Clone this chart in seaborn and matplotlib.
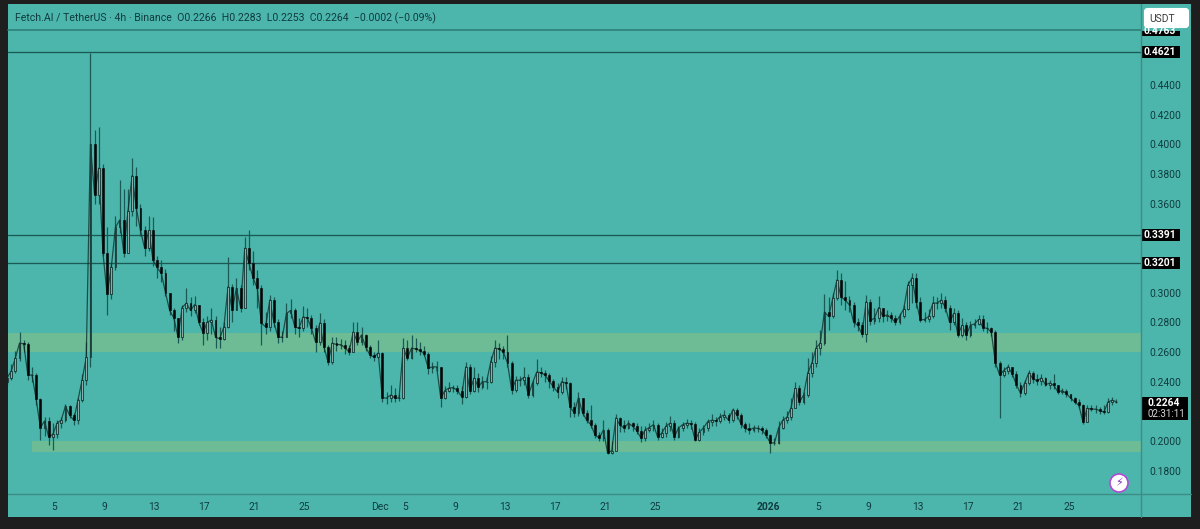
import matplotlib
matplotlib.use("Agg")
import matplotlib.pyplot as plt
from matplotlib.patches import Rectangle, FancyBboxPatch, Circle
import numpy as np
import pandas as pd
import seaborn as sns

first_open = 0.2400
closes = [
.2425,.247,.256,.266,.2655,.2445,.2445,.228,.209,.2135,.2027,.2045,.212,.214,.2235,.2175,.214,.2275,.241,.2565,
.40,.366,.384,.327,.299,.317,.344,.349,.327,.355,.379,.357,.342,.33,.342,.322,.317,.313,.30,.288,
.283,.27,.29,.293,.288,.292,.28,.273,.28,.2816,.27,.269,.277,.304,.288,.303,.29,.33,.32,.31,
.303,.2795,.277,.295,.28,.27,.27,.286,.288,.277,.276,.2836,.283,.276,.2667,.2796,.2635,.253,.266,.265,
.265,.263,.26,.2735,.267,.2715,.2635,.258,.2566,.2593,.229,.229,.231,.229,.229,.2627,.256,.2627,.262,.261,
.259,.249,.25,.25,.229,.234,.2357,.236,.234,.23,.25,.234,.2425,.2365,.24,.24,.2535,.2627,.262,.26,
.2526,.2343,.241,.241,.243,.231,.239,.2465,.246,.2445,.2405,.2365,.233,.24,.239,.223,.219,.229,.219,.214,
.211,.204,.202,.2074,.192,.1935,.2155,.2105,.2088,.212,.21,.207,.202,.2075,.209,.211,.2027,.2054,.21,.212,
.2027,.2088,.211,.212,.2115,.2007,.206,.2088,.213,.214,.2135,.2165,.2175,.214,.221,.2175,.2115,.2085,.2074,.2088,
.2085,.2074,.204,.1987,.1987,.2088,.214,.216,.2225,.2357,.2263,.231,.2458,.2526,.2627,.266,.287,.284,.2964,.3086,
.297,.295,.2917,.28,.278,.272,.294,.281,.283,.29,.284,.285,.283,.28,.284,.289,.305,.31,.294,.2816,
.282,.284,.293,.293,.295,.29,.28,.286,.2715,.278,.2715,.278,.279,.282,.2765,.276,.2735,.2526,.2445,.2475,
.25,.2455,.238,.2323,.239,.246,.242,.2405,.2425,.238,.239,.2375,.233,.234,.232,.229,.2265,.224,.2128,.222,
.2215,.2215,.2205,.2195,.2263,.2275,.2264]
highs = [
.246,.252,.261,.2735,.268,.2665,.25,.246,.229,.216,.216,.212,.214,.216,.225,.2245,.219,.229,.245,.267,
.4617,.41,.412,.387,.344,.32,.352,.376,.37,.37,.391,.385,.36,.345,.352,.351,.325,.322,.316,.30,
.29,.283,.292,.303,.297,.298,.292,.283,.284,.29,.284,.277,.28,.324,.306,.31,.305,.3375,.342,.328,
.315,.305,.287,.2985,.297,.282,.274,.293,.296,.29,.283,.291,.29,.285,.278,.286,.282,.265,.27,.27,
.269,.268,.265,.28,.28,.277,.272,.265,.26,.268,.26,.233,.238,.236,.232,.2695,.268,.2715,.2695,.267,
.264,.26,.253,.254,.25,.237,.24,.238,.238,.237,.2535,.252,.25,.246,.244,.243,.257,.268,.266,.264,
.2715,.254,.244,.244,.25,.245,.241,.255,.25,.248,.246,.242,.239,.243,.243,.24,.226,.233,.229,.221,
.224,.212,.206,.214,.209,.20,.218,.216,.214,.214,.213,.212,.21,.21,.212,.214,.212,.209,.213,.217,
.214,.21,.213,.215,.214,.213,.209,.211,.215,.218,.216,.219,.221,.219,.2225,.222,.219,.213,.212,.211,
.211,.21,.209,.205,.202,.2135,.217,.22,.229,.24,.238,.233,.256,.26,.268,.275,.299,.297,.30,.3153,
.313,.308,.298,.294,.283,.28,.2985,.296,.29,.298,.29,.288,.287,.285,.286,.292,.308,.3133,.3133,.297,
.287,.289,.298,.297,.30,.298,.292,.29,.288,.283,.28,.281,.282,.285,.285,.28,.277,.275,.254,.25,
.252,.25,.247,.24,.241,.248,.247,.245,.245,.243,.241,.245,.238,.236,.235,.232,.23,.228,.225,.224,
.224,.224,.223,.224,.229,.2295,.2283]
lows = [
.238,.241,.246,.254,.26,.241,.24,.224,.2007,.2035,.1975,.194,.202,.209,.213,.2155,.211,.2115,.2265,.238,
.25,.36,.36,.325,.285,.296,.315,.34,.324,.327,.352,.345,.338,.325,.328,.318,.31,.307,.298,.285,
.274,.266,.268,.287,.284,.286,.278,.265,.268,.272,.263,.263,.268,.276,.28,.288,.287,.29,.315,.305,
.29,.265,.272,.274,.277,.266,.267,.27,.283,.272,.27,.274,.277,.272,.26,.265,.26,.251,.252,.261,
.262,.259,.258,.26,.265,.265,.261,.256,.254,.256,.226,.225,.226,.226,.227,.228,.2545,.255,.26,.258,
.257,.245,.246,.247,.223,.228,.233,.233,.232,.225,.229,.232,.233,.233,.235,.235,.239,.25,.255,.255,
.25,.232,.233,.237,.238,.229,.23,.238,.243,.24,.236,.234,.229,.232,.235,.2165,.2165,.217,.217,.212,
.209,.202,.20,.20,.191,.191,.2035,.206,.206,.208,.207,.205,.199,.20,.206,.207,.201,.202,.203,.207,
.201,.202,.207,.209,.208,.20,.20,.204,.207,.21,.21,.212,.214,.212,.213,.215,.209,.206,.205,.206,
.206,.205,.202,.192,.197,.198,.208,.212,.214,.222,.224,.225,.23,.243,.25,.258,.265,.275,.283,.295,
.292,.288,.287,.277,.274,.27,.2665,.278,.279,.28,.28,.281,.28,.278,.279,.283,.288,.293,.29,.28,
.28,.28,.283,.289,.29,.287,.275,.278,.27,.27,.268,.27,.276,.278,.274,.273,.271,.25,.2155,.243,
.245,.243,.236,.23,.231,.238,.239,.238,.238,.237,.235,.235,.232,.232,.23,.227,.225,.222,.2115,.213,
.22,.219,.218,.218,.219,.224,.2253]

level_prices = [0.4621, 0.3391, 0.3201]
zone_bands = [(0.2600, 0.2729), (0.1926, 0.2000)]
price_ticks = [0.18, 0.20, 0.24, 0.26, 0.28, 0.30, 0.36, 0.38, 0.40, 0.42, 0.44]
date_labels = ['5','9','13','17','21','25','Dec','5','9','13','17','21','25','2026','5','9','13','17','21','25']
date_bars = [11.3,23.3,35.3,47.2,59.2,71.2,89.5,95.4,107.5,119.4,131.4,143.4,155.4,182.5,194.5,206.5,218.5,230.4,242.4,254.7]

title_text = "Fetch.AI / TetherUS \u00b7 4h \u00b7 Binance  O0.2266  H0.2283  L0.2253  C0.2264  \u22120.0002 (\u22120.09%)"

TEAL = '#4DB6AC'; DARK = '#1e1e1e'; ZONE = '#6DBC96'; LINE = '#1B5A54'; TXT = '#0F3B3F'; SEP = '#3B8D85'

sns.set_theme(style="white")
plt.rcParams['font.family'] = ['Roboto', 'DejaVu Sans']

assert len(closes) == len(highs) == len(lows), (len(closes), len(highs), len(lows))
df = pd.DataFrame({'bar': np.arange(len(closes)), 'close': closes, 'high': highs, 'low': lows})
df['open'] = df['close'].shift(1).fillna(first_open)
df.loc[df.index[-1], 'open'] = 0.2266

fig = plt.figure(figsize=(12, 5.29), dpi=100, facecolor=DARK)

bg = fig.add_axes([0, 0, 1, 1], zorder=0)
bg.set_xlim(0, 1200); bg.set_ylim(529, 0); bg.axis('off')
bg.add_patch(Rectangle((8, 4), 1183, 513, fc=TEAL, ec='none'))

ax = fig.add_axes([8/1200, (529-494)/529, (1141-8)/1200, (494-30)/529], zorder=1)
ax.patch.set_alpha(0)
ax.set_xlim(0.24, 271.9)
ax.set_ylim(0.2 - 53/1483, 0.2 + 411/1483)

for i, (lo, hi) in enumerate(zone_bands):
    left = 0.24 if i == 0 else 6.0
    ax.fill_between([left, 271.9], lo, hi, color=ZONE, lw=0, zorder=1)
for p in level_prices:
    ax.axhline(p, color=LINE, lw=0.95, zorder=2)

ax.vlines(df['bar'], df['low'], df['high'], color=LINE, lw=0.9, zorder=3)
sns.lineplot(data=df, x='bar', y='close', estimator=None, color='#0B2B28', lw=0.9, alpha=0.75, ax=ax, zorder=3)
up = df[df['close'] >= df['open']]
dn = df[df['close'] < df['open']]
ax.bar(up['bar'], up['close'] - up['open'], bottom=up['open'], width=0.42, color='#8FAAA6', edgecolor='#0B2B28', lw=0.55, zorder=4)
ax.bar(dn['bar'], dn['open'] - dn['close'], bottom=dn['close'], width=0.46, color='#050505', edgecolor='#050505', lw=0.4, zorder=5)

ax.set_xlabel(''); ax.set_ylabel('')
ax.yaxis.tick_right()
ax.set_yticks(price_ticks)
ax.set_yticklabels([f'{p:.4f}' for p in price_ticks], fontsize=7.4, color=TXT)
ax.set_xticks(date_bars)
ax.set_xticklabels(date_labels, fontsize=7.4, color=TXT)
for lab in ax.get_xticklabels():
    if lab.get_text() == '2026':
        lab.set_fontweight('bold')
ax.tick_params(axis='both', length=0)
ax.tick_params(axis='y', pad=6)
ax.tick_params(axis='x', pad=6)
for s in ax.spines.values():
    s.set_visible(False)
ax.grid(False)

ov = fig.add_axes([0, 0, 1, 1], zorder=2)
ov.set_xlim(0, 1200); ov.set_ylim(529, 0); ov.axis('off'); ov.patch.set_alpha(0)
ov.plot([8, 1141], [30, 30], color='#2E7F78', lw=1.2)
ov.plot([1141, 1141], [4, 517], color=SEP, lw=1.0)
ov.plot([8, 1191], [494, 494], color=SEP, lw=1.0)
ov.text(15, 18, title_text, fontsize=7.6, color=TXT, va='center', ha='left')

ov.add_patch(FancyBboxPatch((1145, 9), 43, 18, boxstyle="round,pad=0,rounding_size=2.5", fc='white', ec='white', lw=1.5))
ov.text(1162.5, 18.5, 'USDT', fontsize=7.4, color='#3a3a3a', ha='center', va='center')

def tag(price_y, label):
    ov.add_patch(Rectangle((1141.5, price_y - 6), 38, 12, fc='black', ec='none'))
    ov.text(1160, price_y, label, fontsize=7.4, color='white', ha='center', va='center', fontweight='bold')

tag(52, '0.4621'); tag(234.5, '0.3391'); tag(263, '0.3201')

ov.add_patch(Rectangle((1141.5, 31), 38, 5, fc='black', ec='none'))
top_t = ov.text(1160, 31, '0.4763', fontsize=7.4, color='white', ha='center', va='center', fontweight='bold')
top_t.set_clip_path(Rectangle((1141.5, 31), 38, 5, transform=ov.transData))

ov.add_patch(Rectangle((1141.5, 397), 46, 23, fc='black', ec='none'))
ov.text(1148, 403, '0.2264', fontsize=7.4, color='white', ha='left', va='center', fontweight='bold')
ov.text(1148, 414, '02:31:11', fontsize=7.0, color='#d8d8d8', ha='left', va='center')

ov.add_patch(Circle((1119, 483), 9, fc='white', ec='#B24BD6', lw=1.2))
ov.text(1119, 483, '\u26a1', fontsize=8, color='#7B2CBF', ha='center', va='center', family=['DejaVu Sans'])

fig.savefig('out.png', dpi=100, facecolor=DARK)
